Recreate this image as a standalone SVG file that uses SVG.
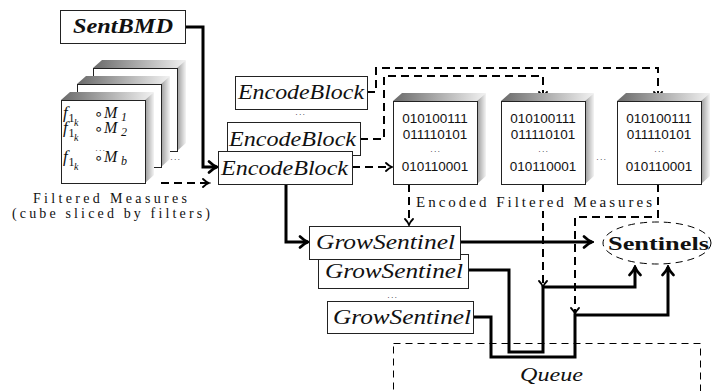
<svg xmlns="http://www.w3.org/2000/svg" width="712" height="391" viewBox="0 0 712 391">
  <style>
    .box { fill: #fff; stroke: #222; stroke-width: 1; }
    .mi { font-family: 'Liberation Serif', serif; font-style: italic; fill: #111; }
    .rm { font-family: 'Liberation Serif', serif; font-style: normal; fill: #111; }
    .sym { font-family: 'DejaVu Sans', sans-serif; font-style: normal; fill: #111; }
    .bits { font-family: 'Liberation Sans', sans-serif; font-size: 13.5px; fill: #111; text-anchor: middle; }
    .dots { font-family: 'Liberation Serif', serif; font-size: 8px; fill: #111; text-anchor: middle; letter-spacing: 1.6px; }
    .thick { fill: none; stroke: #000; stroke-width: 3; marker-end: url(#ahThick); }
    .dasharrow { fill: none; stroke: #000; stroke-width: 2; stroke-dasharray: 8 5; marker-end: url(#ahDash); }
    .thin-dash { fill: none; stroke: #000; stroke-width: 1; stroke-dasharray: 7 5; }
  </style>
  <defs>
    <linearGradient id="topGrad" x1="0" y1="0" x2="1" y2="0">
      <stop offset="0" stop-color="#6a6a6a"/>
      <stop offset="1" stop-color="#f2f2f2"/>
    </linearGradient>
    <linearGradient id="sideGrad" x1="0" y1="0" x2="1" y2="0">
      <stop offset="0" stop-color="#9a9a9a"/>
      <stop offset="1" stop-color="#f4f4f4"/>
    </linearGradient>
    <!-- shaded cube: front face 84x83, depth offset (9,-8) -->
    <g id="cube">
      <polygon points="0,0 9,-8 93,-8 84,0" fill="url(#topGrad)"/>
      <polygon points="84,0 93,-8 93,75 84,83" fill="url(#sideGrad)"/>
      <rect x="0.5" y="0.5" width="84" height="83" class="box"/>
    </g>
    <marker id="ahThick" viewBox="0 0 12 14" refX="10" refY="7" markerWidth="12" markerHeight="14" markerUnits="userSpaceOnUse" orient="auto">
      <path d="M2,1.5 Q6,5.5 10,7 Q6,8.5 2,12.5" fill="none" stroke="#000" stroke-width="2.6" stroke-linecap="round"/>
    </marker>
    <marker id="ahDash" viewBox="0 0 9 10" refX="7.5" refY="5" markerWidth="9" markerHeight="10" markerUnits="userSpaceOnUse" orient="auto">
      <path d="M1.5,1 Q4.5,4 7.5,5 Q4.5,6 1.5,9" fill="none" stroke="#000" stroke-width="1.8" stroke-linecap="round"/>
    </marker>
  </defs>

  <rect width="712" height="391" fill="#fff"/>

  <!-- connectors -->
  <g id="connectors">
    <path class="thick" d="M185,27 H203 V167 H217"/>
    <path class="dasharrow" d="M161,183 H209"/>
    <path class="dasharrow" d="M352,167 H392"/>
    <path class="dasharrow" d="M360,139 H384 V76 H543 V98"/>
    <path class="dasharrow" d="M367,92 H376 V68 H658 V98"/>
    <path class="dasharrow" d="M409,184 V225"/>
    <path class="dasharrow" d="M543,184 V287"/>
    <path class="dasharrow" d="M658,184 V217 H575 V314"/>
    <path class="thick" d="M286,184 V242 H308"/>
    <path class="thick" d="M460,242 H592"/>
    <path class="thick" d="M468,270 H509 V352 H543 V287 H635 V267"/>
    <path class="thick" d="M473,317 H491 V357 H575 V315 H668 V267"/>
  </g>

  <!-- source node -->
  <g id="sentbmd">
    <rect x="60.5" y="10.5" width="125" height="33" class="box"/>
    <text x="73" y="33" class="mi" font-size="20" font-weight="bold" textLength="100" lengthAdjust="spacingAndGlyphs">SentBMD</text>
  </g>

  <!-- stack of filtered-measure cubes -->
  <g id="filtered-measures">
    <use href="#cube" x="93" y="68"/>
    <use href="#cube" x="77" y="84"/>
    <use href="#cube" x="61" y="100"/>
    <text x="176" y="160" class="dots">...</text>
    <!-- f_{1_k} ∘ M_i, one text per row -->
    <text x="63" y="118" class="mi" font-size="17">f<tspan class="rm" x="68.5" dy="3.5" font-size="12">1</tspan><tspan x="74" dy="4.5" font-size="10">k</tspan><tspan class="sym" x="94" dy="-7" font-size="15">∘</tspan><tspan x="104" dy="-1" font-size="16">M</tspan><tspan x="121" dy="3" font-size="12">1</tspan></text>
    <text x="63" y="133" class="mi" font-size="17">f<tspan class="rm" x="68.5" dy="3.5" font-size="12">1</tspan><tspan x="74" dy="4.5" font-size="10">k</tspan><tspan class="sym" x="94" dy="-7" font-size="15">∘</tspan><tspan x="104" dy="-1" font-size="16">M</tspan><tspan x="121" dy="3" font-size="12">2</tspan></text>
    <text x="101" y="151" class="dots">...</text>
    <text x="63" y="162" class="mi" font-size="17">f<tspan class="rm" x="68.5" dy="3.5" font-size="12">1</tspan><tspan x="74" dy="4.5" font-size="10">k</tspan><tspan class="sym" x="94" dy="-7" font-size="15">∘</tspan><tspan x="104" dy="-1" font-size="16">M</tspan><tspan x="121" dy="3" font-size="12">b</tspan></text>

    <text x="33" y="203" class="rm" font-size="14" textLength="154" lengthAdjust="spacing">Filtered Measures</text>
    <text x="12" y="218" class="rm" font-size="14" textLength="198" lengthAdjust="spacing">(cube sliced by filters)</text>
  </g>

  <!-- encoders -->
  <g id="encode-top">
    <rect x="235.5" y="76.5" width="132" height="33" class="box"/>
    <text x="238" y="99" class="mi" font-size="20" textLength="126" lengthAdjust="spacingAndGlyphs">EncodeBlock</text>
  </g>
  <text x="301" y="115" class="dots">...</text>
  <g id="encode-mid">
    <rect x="227.5" y="122.5" width="133" height="33" class="box"/>
    <text x="229" y="146" class="mi" font-size="20" textLength="127" lengthAdjust="spacingAndGlyphs">EncodeBlock</text>
  </g>
  <g id="encode-front">
    <rect x="218.5" y="151.5" width="134" height="33" class="box"/>
    <text x="221" y="175" class="mi" font-size="20" textLength="127" lengthAdjust="spacingAndGlyphs">EncodeBlock</text>
  </g>

  <!-- encoded cubes -->
  <g id="encoded-1">
    <use href="#cube" x="393" y="101"/>
    <text x="435" y="123" class="bits">010100111</text>
    <text x="435" y="139" class="bits">011110101</text>
    <text x="436" y="152" class="dots">...</text>
    <text x="435" y="171" class="bits">010110001</text>
  </g>
  <g id="encoded-2">
    <use href="#cube" x="501" y="101"/>
    <text x="543" y="123" class="bits">010100111</text>
    <text x="543" y="139" class="bits">011110101</text>
    <text x="544" y="152" class="dots">...</text>
    <text x="543" y="171" class="bits">010110001</text>
  </g>
  <text x="602" y="160" class="dots">...</text>
  <g id="encoded-3">
    <use href="#cube" x="617" y="101"/>
    <text x="659" y="123" class="bits">010100111</text>
    <text x="659" y="139" class="bits">011110101</text>
    <text x="660" y="152" class="dots">...</text>
    <text x="659" y="171" class="bits">010110001</text>
  </g>
  <g id="encoded-label">
    <rect x="414" y="193" width="240" height="18" fill="#fff"/>
    <text x="416" y="207" class="rm" font-size="15" textLength="236" lengthAdjust="spacing">Encoded Filtered Measures</text>
  </g>

  <!-- sentinel growers -->
  <g id="grow-2">
    <rect x="318.5" y="254.5" width="150" height="34" class="box"/>
    <text x="325" y="278" class="mi" font-size="20" textLength="138" lengthAdjust="spacingAndGlyphs">GrowSentinel</text>
  </g>
  <g id="grow-1">
    <rect x="309.5" y="226.5" width="151" height="33" class="box"/>
    <text x="316" y="249" class="mi" font-size="20" textLength="139" lengthAdjust="spacingAndGlyphs">GrowSentinel</text>
  </g>
  <text x="393" y="298" class="dots">...</text>
  <g id="grow-3">
    <rect x="327.5" y="301.5" width="146" height="32" class="box"/>
    <text x="333" y="324" class="mi" font-size="20" textLength="138" lengthAdjust="spacingAndGlyphs">GrowSentinel</text>
  </g>

  <!-- sentinels store -->
  <g id="sentinels">
    <ellipse cx="657" cy="243" rx="54" ry="21" fill="none" stroke="#000" stroke-width="1" stroke-dasharray="7 5"/>
    <text x="608" y="250" class="rm" font-size="19" font-weight="bold" textLength="101" lengthAdjust="spacingAndGlyphs">Sentinels</text>
  </g>

  <!-- work queue -->
  <g id="queue">
    <rect x="393.5" y="343.5" width="307" height="70" class="thin-dash"/>
    <text x="520" y="381" class="mi" font-size="18" textLength="63" lengthAdjust="spacingAndGlyphs">Queue</text>
  </g>
</svg>
